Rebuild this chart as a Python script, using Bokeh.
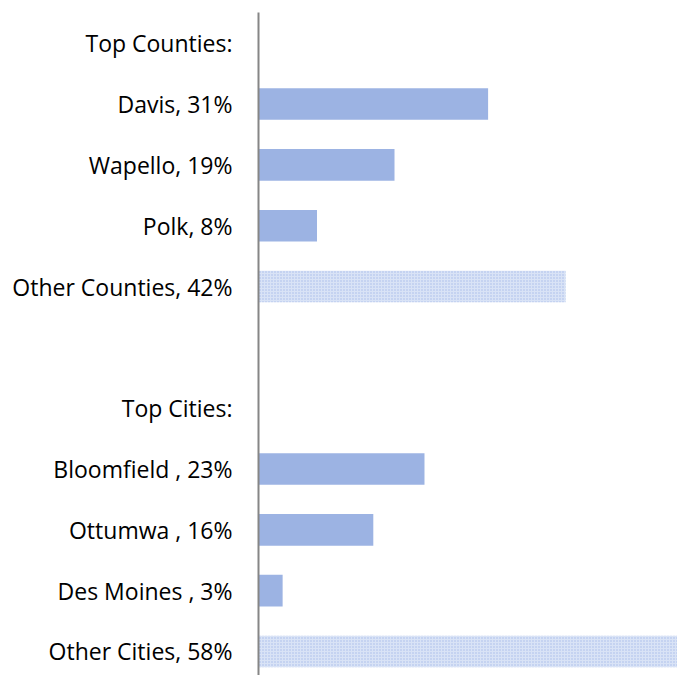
from bokeh.plotting import figure
from bokeh.models import FixedTicker, Range1d
from bokeh.embed import file_html
from bokeh.resources import INLINE

# rows from top to bottom; None = header / spacer rows without a bar
labels = ["Top Counties:", "Davis, 31%", "Wapello, 19%", "Polk, 8%", "Other Counties, 42%", "",
          "Top Cities:", "Bloomfield , 23%", "Ottumwa , 16%", "Des Moines , 3%", "Other Cities, 58%"]
values = [None, 31.4, 18.6, 8.0, 42.0, None, None, 22.7, 15.7, 3.3, 58.3]
is_other = [False, False, False, False, True, False, False, False, False, False, True]

n = len(labels)
ys = [n - 1 - i for i in range(n)]

p = figure(width=677, height=675, output_backend="svg", toolbar_location=None,
           x_range=Range1d(0, 57.3), y_range=Range1d(-0.395, n - 1 + 0.505),
           min_border_left=258, min_border_right=0, min_border_top=12, min_border_bottom=0)

solid_y = [y for y, v, o in zip(ys, values, is_other) if v is not None and not o]
solid_v = [v for v, o in zip(values, is_other) if v is not None and not o]
other_y = [y for y, v, o in zip(ys, values, is_other) if v is not None and o]
other_v = [v for v, o in zip(values, is_other) if v is not None and o]

p.hbar(y=solid_y, right=solid_v, left=0, height=0.52, fill_color="#9CB3E3", line_color=None)
p.hbar(y=other_y, right=other_v, left=0, height=0.52, fill_color="#d9e3f6", line_color=None,
       hatch_pattern="dot", hatch_scale=3, hatch_color="#a7bce8", hatch_weight=1)

p.xaxis.visible = False
p.xgrid.visible = False
p.ygrid.visible = False
p.outline_line_color = None

ax = p.yaxis[0]
ax.ticker = FixedTicker(ticks=[y for y, l in zip(ys, labels) if l])
ax.major_label_overrides = {y: l for y, l in zip(ys, labels) if l}
ax.major_tick_line_color = None
ax.minor_tick_line_color = None
ax.axis_line_color = "#868686"
ax.axis_line_width = 2
ax.major_label_standoff = 20
ax.major_label_text_font = "Open Sans"
ax.major_label_text_font_size = "23px"
ax.major_label_text_color = "#000000"

open("out.html", "w").write(file_html(p, INLINE))
